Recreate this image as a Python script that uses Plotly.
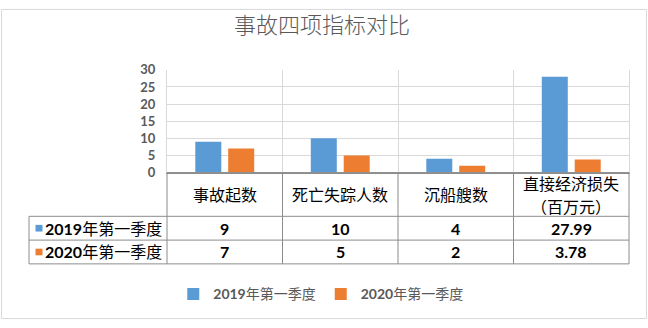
import plotly.graph_objects as go

# ---- data ----
categories = ["事故起数", "死亡失踪人数", "沉船艘数", "直接经济损失<br>（百万元）"]
series_names = ["2019年第一季度", "2020年第一季度"]
values_2019 = [9, 10, 4, 27.99]
values_2020 = [7, 5, 2, 3.78]
value_labels_2019 = ["9", "10", "4", "27.99"]
value_labels_2020 = ["7", "5", "2", "3.78"]
y_ticks = [0, 5, 10, 15, 20, 25, 30]

W, H = 648, 328
BLUE, ORANGE = "#5B9BD5", "#ED7D31"
GRID = "#D9D9D9"
TLINE = "#8C8C8C"
TXT = "#595959"
CJK = "'Noto Sans CJK SC', 'Noto Sans CJK JP', sans-serif"
NUM = "Lato, 'Noto Sans CJK SC', sans-serif"

def px(x):
    return x / W

def py(y):
    return 1 - y / H

X0, X1 = 167, 629            # plot area left/right (px)
Y_TOP, Y_ZERO = 65, 173      # plot area top / zero line (px)
ROW_H1, ROW_R1, ROW_R2 = 219, 244, 269   # table row bottoms
TBL_LEFT = 29

fig = go.Figure()
xs = list(range(len(categories)))
fig.add_trace(go.Bar(x=xs, y=values_2019, name="<b>2019</b>年第一季度",
                     marker=dict(color=BLUE, line=dict(width=0))))
fig.add_trace(go.Bar(x=xs, y=values_2020, name="<b>2020</b>年第一季度",
                     marker=dict(color=ORANGE, line=dict(width=0))))

shapes = []
def hline(y, xa, xb, color=TLINE):
    shapes.append(dict(type="line", xref="paper", yref="paper",
                       x0=px(xa), x1=px(xb), y0=py(y), y1=py(y),
                       line=dict(color=color, width=1)))
def vline(x, ya, yb, color=TLINE):
    shapes.append(dict(type="line", xref="paper", yref="paper",
                       x0=px(x), x1=px(x), y0=py(ya), y1=py(yb),
                       line=dict(color=color, width=1)))

# outer chart border
shapes.append(dict(type="rect", xref="paper", yref="paper",
                   x0=px(1.5), x1=px(646.5), y0=py(1.5), y1=py(326.5),
                   line=dict(color=GRID, width=1), fillcolor="rgba(0,0,0,0)"))

# data table grid: column boundaries follow the category axis domain
n = len(categories)
col_edges = [X0 + (X1 - X0) * i / n for i in range(n + 1)]
for cx in col_edges:
    vline(cx, Y_ZERO, ROW_R2)
vline(TBL_LEFT, ROW_H1, ROW_R2)
hline(Y_ZERO, X0, X1)
for yy in (ROW_H1, ROW_R1, ROW_R2):
    hline(yy, TBL_LEFT, X1)

# legend keys inside table
for yy, col in ((231.5, BLUE), (256.5, ORANGE)):
    shapes.append(dict(type="rect", xref="paper", yref="paper",
                       x0=px(35.5), x1=px(42.5), y0=py(yy - 3.5), y1=py(yy + 3.5),
                       line=dict(width=0), fillcolor=col))

annotations = []
# header row (multi-line headers split into separate lines)
for i, c in enumerate(categories):
    parts = c.split("<br>")
    if len(parts) == 1:
        ys = [196]
    else:
        ys = [184, 208]
    for part, yy in zip(parts, ys):
        annotations.append(dict(x=i, xref="x", y=py(yy), yref="paper", text=part,
                                showarrow=False, xanchor="center", yanchor="middle",
                                borderpad=0,
                                font=dict(family=CJK, size=16, color="#000000")))
# value rows
for labels, yy in ((value_labels_2019, 231.5), (value_labels_2020, 256.5)):
    for i, t in enumerate(labels):
        annotations.append(dict(x=i, xref="x", y=py(yy), yref="paper",
                                text="<b>%s</b>" % t, showarrow=False,
                                xanchor="center", yanchor="middle",
                                font=dict(family=NUM, size=16, color="#000000")))
# row labels
for name, yy in zip(series_names, (231.5, 256.5)):
    yr, rest = name[:4], name[4:]
    annotations.append(dict(x=px(43), xref="paper", y=py(yy), yref="paper",
                            text="<b>%s</b>%s" % (yr, rest), showarrow=False,
                            xanchor="left", yanchor="middle",
                            font=dict(family=NUM, size=16, color="#000000")))

fig.update_layout(
    width=W, height=H,
    margin=dict(l=0, r=0, t=0, b=0),
    paper_bgcolor="white", plot_bgcolor="white",
    title=dict(text="事故四项指标对比", x=0.497, xanchor="center",
               y=py(25), yanchor="middle",
               font=dict(family=CJK, size=22, color=TXT, weight=300)),
    barmode="group", bargap=0.43, bargroupgap=0.21,
    xaxis=dict(domain=[px(X0), px(X1)], range=[-0.5, n - 0.5], type="linear",
               tick0=-0.5, dtick=1, showgrid=True, gridcolor=GRID, gridwidth=1,
               showticklabels=False, ticks="", zeroline=False,
               showline=True, linecolor=TLINE, linewidth=1, mirror=False),
    yaxis=dict(domain=[py(Y_ZERO), py(Y_TOP)], range=[0, 30],
               tickvals=y_ticks, showgrid=True, gridcolor=GRID, gridwidth=1,
               zeroline=False, showline=True, linecolor=GRID, mirror=True,
               ticks="", ticklabelstandoff=8,
               tickfont=dict(family=NUM, size=13, color=TXT, weight="bold")),
    showlegend=True,
    legend=dict(orientation="h", x=0.495, xanchor="center", y=py(301),
                yanchor="middle", itemwidth=30, traceorder="normal",
                font=dict(family=NUM, size=14, color=TXT)),
    shapes=shapes,
    annotations=annotations,
)

fig.write_html("out.html")
